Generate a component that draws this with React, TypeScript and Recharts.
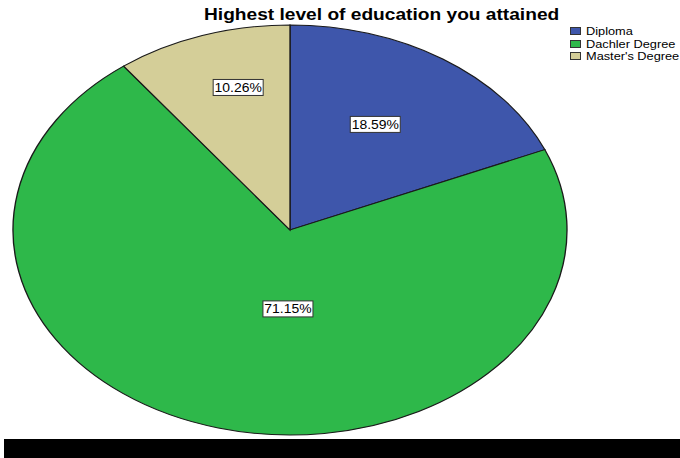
import { PieChart, Pie, Cell, Legend } from "recharts";

const categories = ["Diploma", "Dachler Degree", "Master's Degree"];
const counts = [29, 111, 16];
const colors = ["#3e56ab", "#2eb84a", "#d4ce98"];

const data = categories.map((name, i) => ({ name, value: counts[i] }));

// SPSS draws the pie as an ellipse, so the svg is stretched sideways
const CX = 290;
const CY = 230;
const RY = 205;
const K = 277 / 205;
// the whole export is a bit wide, text included
const TX = 1.16;

// label placement (fraction of radius, degrees added to mid angle)
const labelSpot: Record<string, { f: number; da: number }> = {
  Diploma: { f: 0.6, da: 2.6 },
  "Dachler Degree": { f: 0.385, da: 13.9 },
  "Master's Degree": { f: 0.72, da: -3.4 },
};

const RAD = Math.PI / 180;
const FONT = "'Liberation Sans', Arial, sans-serif";

const PctLabel = (props: any) => {
  const { cx, cy, midAngle, outerRadius, percent, name } = props;
  const s = labelSpot[name] || { f: 0.6, da: 0 };
  const a = (midAngle + s.da) * RAD;
  const r = outerRadius * s.f;
  const x = cx + r * Math.cos(-a);
  const y = cy + r * Math.sin(-a);
  const txt = `${(percent * 100).toFixed(2)}%`;
  return (
    <g transform={`translate(${x} ${y}) scale(${1 / K} 1)`}>
      <rect x={-25} y={-8} width={50} height={16} fill="#fff" stroke="#333" strokeWidth={1} />
      <text
        x={0}
        y={0}
        dy="0.36em"
        textAnchor="middle"
        fontSize={12}
        fill="#000"
        fontFamily={FONT}
        transform={`scale(${TX} 1)`}
      >
        {txt}
      </text>
    </g>
  );
};

const LegendBox = () => (
  <div style={{ fontFamily: FONT, fontSize: 11, lineHeight: "12.5px", color: "#000" }}>
    {categories.map((c, i) => (
      <div key={c} style={{ display: "flex", alignItems: "center", whiteSpace: "nowrap", height: 12.5 }}>
        <span
          style={{
            display: "inline-block",
            width: 9,
            height: 6,
            background: colors[i],
            border: "1px solid #333",
            marginRight: 5,
            flex: "none",
          }}
        />
        <span style={{ display: "inline-block", transform: `scaleX(${TX})`, transformOrigin: "0 50%" }}>{c}</span>
      </div>
    ))}
  </div>
);

export default function App() {
  return (
    <div
      style={{
        position: "fixed",
        left: 0,
        top: 0,
        width: 680,
        height: 458,
        background: "#fff",
        overflow: "hidden",
      }}
    >
      <style>{`
        .ell > .recharts-wrapper > svg.recharts-surface {
          transform-origin: ${CX}px ${CY}px;
          transform: scaleX(${K});
          overflow: visible;
        }
        .ell .recharts-pie-sector path { vector-effect: non-scaling-stroke; }
      `}</style>
      <div
        style={{
          position: "absolute",
          left: 204,
          top: 5,
          whiteSpace: "nowrap",
          fontFamily: FONT,
          fontWeight: "bold",
          fontSize: 16.5,
          color: "#000",
          transform: `scaleX(${TX})`,
          transformOrigin: "0 50%",
        }}
      >
        Highest level of education you attained
      </div>
      <div className="ell" style={{ position: "absolute", left: 0, top: 0 }}>
        <PieChart width={680} height={458} margin={{ top: 0, right: 0, bottom: 0, left: 0 }}>
          <Pie
            data={data}
            dataKey="value"
            nameKey="name"
            cx={CX}
            cy={CY}
            outerRadius={RY}
            startAngle={90}
            endAngle={-270}
            stroke="#1a1a1a"
            strokeWidth={1}
            label={PctLabel}
            labelLine={false}
            isAnimationActive={false}
          >
            {data.map((d, i) => (
              <Cell key={d.name} fill={colors[i]} />
            ))}
          </Pie>
          <Legend
            content={<LegendBox />}
            layout="vertical"
            verticalAlign="top"
            align="right"
            wrapperStyle={{ left: 570, top: 25, width: 120 }}
          />
        </PieChart>
      </div>
      <div
        style={{
          position: "absolute",
          left: 4,
          top: 439,
          width: 676,
          height: 19,
          background: "#000",
        }}
      />
    </div>
  );
}
